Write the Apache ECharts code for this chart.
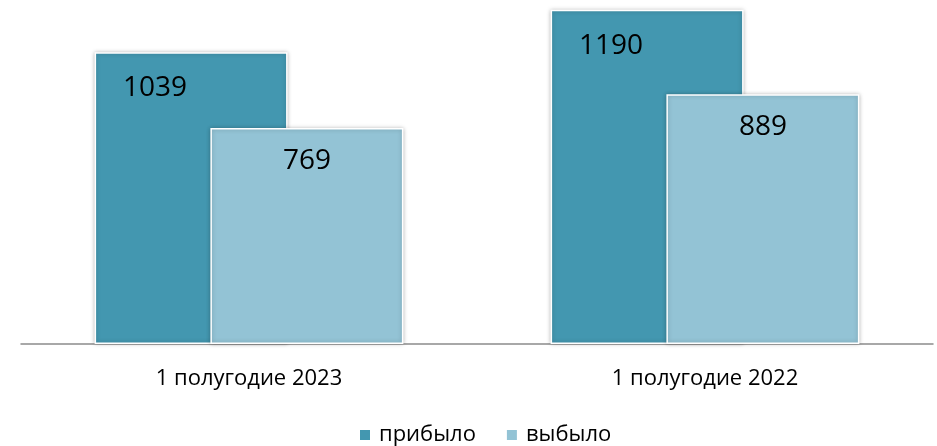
<!DOCTYPE html>
<html>
<head>
<meta charset="utf-8">
<script src="https://cdn.jsdelivr.net/npm/echarts@6/dist/echarts.min.js"></script>
<style>
  html, body { margin: 0; padding: 0; background: #fff; }
  #chart { width: 937px; height: 446px; }
</style>
</head>
<body>
<div id="chart"></div>
<script>
// данные
const categories = ["1 полугодие 2023", "1 полугодие 2022"];
const seriesNames = ["прибыло", "выбыло"];
const arrived = [1039, 1190];
const departed = [769, 889];

const colors = ["#4397b0", "#93c3d5"];
const font = "Open Sans, Noto Sans, sans-serif";

const chart = echarts.init(document.getElementById("chart"));

const barStyle = (color) => ({
  color: color,
  borderColor: "#ffffff",
  borderWidth: 1.5,
  shadowColor: "rgba(0,0,0,0.25)",
  shadowBlur: 4
});

chart.setOption({
  animation: false,
  grid: { left: 21, right: 4, top: 7, bottom: 102 },
  legend: {
    data: seriesNames,
    bottom: -5,
    left: 353,
    itemWidth: 12,
    itemHeight: 12,
    itemGap: 29,
    icon: "rect",
    textStyle: { fontFamily: font, fontSize: 22, color: "#000", padding: [0, 0, 0, 3] }
  },
  xAxis: {
    type: "category",
    data: categories,
    axisLine: { lineStyle: { color: "#8c8c8c", width: 1.5 } },
    axisTick: { show: false },
    axisLabel: { margin: 24, fontFamily: font, fontSize: 22, color: "#000" }
  },
  yAxis: {
    type: "value",
    min: 0,
    max: 1200,
    show: false,
    splitLine: { show: false }
  },
  series: [
    {
      name: seriesNames[0],
      type: "bar",
      data: arrived,
      barWidth: 193,
      barGap: "-40%",
      itemStyle: barStyle(colors[0]),
      label: {
        show: true,
        position: "insideTop",
        distance: 22,
        offset: [-36, 0],
        fontFamily: font,
        fontSize: 28,
        color: "#000"
      }
    },
    {
      name: seriesNames[1],
      type: "bar",
      data: departed,
      barWidth: 193,
      itemStyle: barStyle(colors[1]),
      label: {
        show: true,
        position: "insideTop",
        distance: 19,
        fontFamily: font,
        fontSize: 28,
        color: "#000"
      }
    }
  ]
});
</script>
</body>
</html>
